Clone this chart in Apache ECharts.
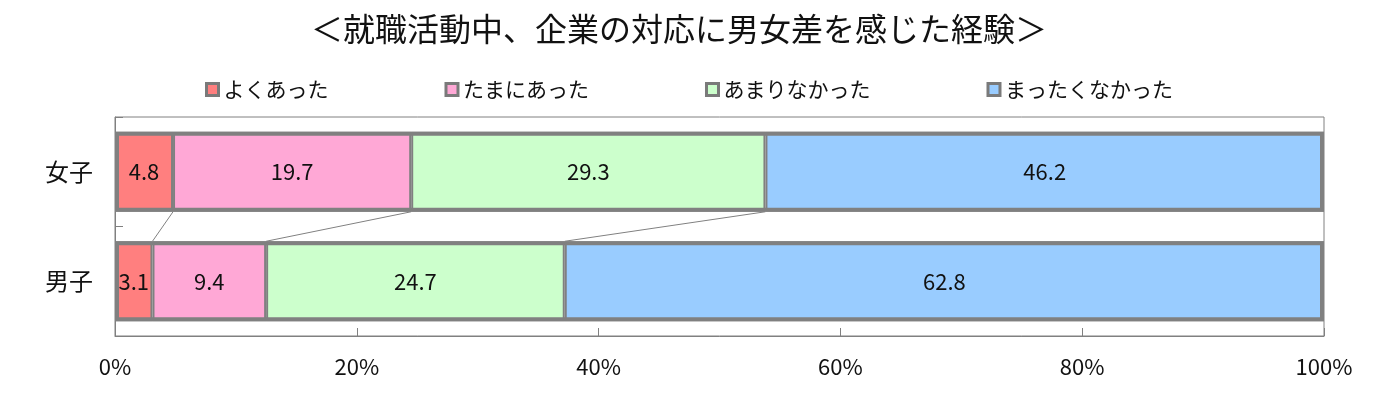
<!DOCTYPE html>
<html>
<head>
<meta charset="utf-8">
<script src="https://cdn.jsdelivr.net/npm/echarts@6/dist/echarts.min.js"></script>
<style>
  html, body { margin: 0; padding: 0; background: #fff; }
  #chart { width: 1394px; height: 398px; }
</style>
</head>
<body>
<div id="chart"></div>
<script>
// 回答区分と性別
const answers = ['よくあった', 'たまにあった', 'あまりなかった', 'まったくなかった']
const groups = ['女子', '男子']
// 各回答の割合 (%)  [女子, 男子]
const often = [4.8, 3.1]
const sometimes = [19.7, 9.4]
const rarely = [29.3, 24.7]
const never = [46.2, 62.8]
const xTicks = [0, 20, 40, 60, 80, 100]

const colors = ['#ff7f7f', '#ffa8d6', '#ccffcc', '#99ccff']
const borderGray = '#808080'
const barW = 80
const font = '"Noto Sans CJK JP", "Noto Sans", sans-serif'

const values = [often, sometimes, rarely, never]

// 合計 (外枠用) と区切り線 (女子と男子の累積値をつなぐ)
const totals = groups.map((g, j) => values.reduce((s, v) => s + v[j], 0))
const cum = [0, 0]
const links = []
for (let i = 0; i < values.length - 1; i++) {
  cum[0] += values[i][0]
  cum[1] += values[i][1]
  links.push([+cum[0].toFixed(1), +cum[1].toFixed(1)])
}

const chart = echarts.init(document.getElementById('chart'))

const series = answers.map((name, i) => ({
  name: name,
  type: 'bar',
  stack: 'total',
  barWidth: barW,
  barGap: '-100%',
  data: values[i],
  itemStyle: { color: colors[i], borderColor: borderGray, borderWidth: 2 },
  label: {
    show: true,
    position: 'inside',
    color: '#111',
    fontFamily: font,
    fontSize: 22
  },
  emphasis: { disabled: true }
}))

// 外枠
series.push({
  type: 'bar',
  stack: 'frame',
  barWidth: barW,
  barGap: '-100%',
  data: totals,
  silent: true,
  z: 3,
  itemStyle: { color: 'transparent', borderColor: borderGray, borderWidth: 4 }
})

series.push({
  type: 'custom',
  data: links,
  encode: { x: [0, 1] },
  silent: true,
  z: 1,
  renderItem(params, api) {
    const p1 = api.coord([api.value(0), 0])
    const p2 = api.coord([api.value(1), 1])
    const half = barW / 2
    return {
      type: 'line',
      shape: { x1: p1[0], y1: p1[1] + half, x2: p2[0], y2: p2[1] - half },
      style: { stroke: borderGray, lineWidth: 1 }
    }
  }
})

chart.setOption({
  animation: false,
  title: {
    text: '＜就職活動中、企業の対応に男女差を感じた経験＞',
    left: 306,
    top: 8,
    textStyle: { fontFamily: font, fontSize: 32, fontWeight: 'normal', color: '#111' }
  },
  legend: {
    data: answers,
    left: 200,
    top: 74,
    itemWidth: 12,
    itemHeight: 12,
    itemGap: 116,
    icon: 'rect',
    itemStyle: { borderWidth: 3, borderColor: '#7a7a7a' },
    textStyle: { fontFamily: font, fontSize: 21, color: '#111' }
  },
  grid: {
    left: 115,
    right: 70,
    top: 117,
    bottom: 62,
    show: true,
    borderColor: borderGray,
    borderWidth: 1
  },
  xAxis: {
    type: 'value',
    min: xTicks[0],
    max: xTicks[xTicks.length - 1],
    interval: xTicks[1] - xTicks[0],
    axisLine: { show: true, lineStyle: { color: borderGray } },
    axisTick: { show: true, inside: true, length: 8, lineStyle: { color: borderGray } },
    splitLine: { show: false },
    axisLabel: {
      formatter: '{value}%',
      margin: 20,
      fontFamily: font,
      fontSize: 22,
      color: '#111'
    }
  },
  yAxis: {
    type: 'category',
    data: groups,
    inverse: true,
    axisLine: { show: true, lineStyle: { color: borderGray } },
    axisTick: { show: true, inside: true, length: 8, lineStyle: { color: borderGray } },
    axisLabel: { margin: 22, fontFamily: font, fontSize: 24, color: '#111' }
  },
  series: series
})
</script>
</body>
</html>
